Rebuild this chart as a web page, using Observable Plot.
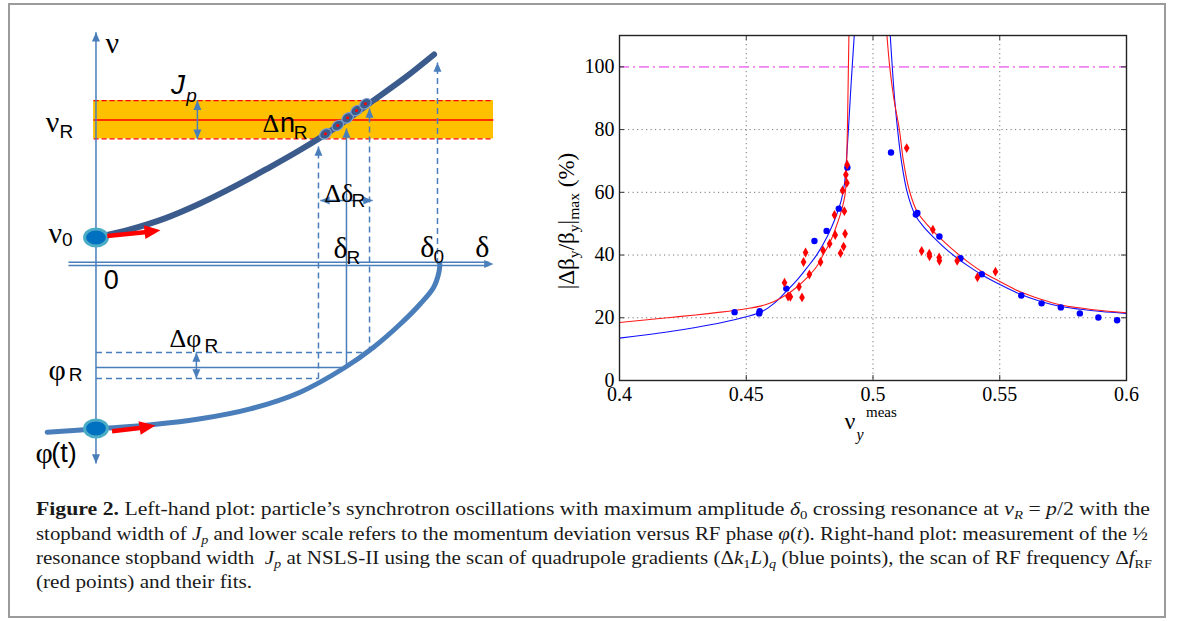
<!DOCTYPE html>
<html><head><meta charset="utf-8">
<script src="https://cdn.jsdelivr.net/npm/d3@7"></script>
<script src="https://cdn.jsdelivr.net/npm/@observablehq/plot@0.6"></script>
<style>
html,body{margin:0;padding:0;background:#fff;}
#root{position:relative;width:1182px;height:621px;overflow:hidden;background:#fff;}
#box{position:absolute;left:8px;top:3px;width:1154px;height:611px;border:2px solid #9b9b9b;}
#left{position:absolute;left:0;top:0;}
#right{position:absolute;left:540px;top:0;}
.cap{position:absolute;left:36px;font-family:"Liberation Serif",serif;font-size:19.5px;line-height:25px;white-space:nowrap;color:#1a1a1a;transform-origin:0 50%;}
.cap sub{font-size:68%;vertical-align:-0.3em;line-height:0;}
.lbl{position:absolute;font-family:"Liberation Serif",serif;color:#000;white-space:nowrap;line-height:1;}
.lbl sub{font-size:68%;vertical-align:-0.35em;line-height:0;}
</style></head><body>
<div id="root">
  <div id="box"></div>
  <div id="left"></div>
  <div id="right"></div>
</div>
<script>
// ---------------- Right-hand plot data ----------------
const xTickValues = [0.4, 0.45, 0.5, 0.55, 0.6];
const xTickLabels = ["0.4", "0.45", "0.5", "0.55", "0.6"];
const yTickValues = [0, 20, 40, 60, 80, 100];
const yTickLabels = ["0", "20", "40", "60", "80", "100"];
const gridX = [0.45, 0.5, 0.55];
const gridY = [20, 40, 60, 80];
const limitLevel = [100];

// measured points: quadrupole gradient scan (blue)
const blueX = [0.4454, 0.4551, 0.4553, 0.4658, 0.4769, 0.4817, 0.4865, 0.4899, 0.5071, 0.5169, 0.5175, 0.5262, 0.5345, 0.5429, 0.5585, 0.5665, 0.5741, 0.5816, 0.5889, 0.5963];
const blueY = [21.8, 21.4, 22.1, 29.3, 44.5, 47.7, 54.8, 67.9, 72.7, 52.9, 53.4, 45.9, 39.0, 33.9, 27.1, 24.6, 23.3, 21.4, 20.1, 19.2];
// measured points: RF frequency scan (red)
const redX = [0.4651, 0.4665, 0.4674, 0.4708, 0.4720, 0.4726, 0.4734, 0.4749, 0.4793, 0.4803, 0.4829, 0.4848, 0.4851, 0.4872, 0.4880, 0.4884, 0.4887, 0.4890, 0.4893, 0.4897, 0.4898, 0.5133, 0.5192, 0.5222, 0.5223, 0.5236, 0.5261, 0.5262, 0.5332, 0.5412, 0.5483];
const redY = [31.2, 26.8, 26.7, 29.9, 26.5, 37.8, 40.8, 33.8, 37.8, 41.5, 43.6, 52.8, 46.4, 40.6, 60.6, 42.7, 54.0, 46.8, 65.6, 63.0, 68.8, 74.1, 41.3, 40.4, 39.6, 48.1, 39.2, 38.2, 38.2, 32.9, 34.7];

// fitted curves
const blueFitLeftX = [0.400, 0.410, 0.420, 0.430, 0.440, 0.450, 0.456, 0.461, 0.466, 0.470, 0.474, 0.478, 0.482, 0.485, 0.4875, 0.4888, 0.4895, 0.4903, 0.4914, 0.4926];
const blueFitLeftY = [13.5, 14.5, 15.6, 16.9, 18.4, 20.3, 21.9, 24.6, 28.6, 32.0, 36.0, 40.3, 46.0, 51.5, 57.5, 63, 70, 80, 95, 110];
const blueFitRightX = [0.5068, 0.5076, 0.5085, 0.5097, 0.5112, 0.5135, 0.5168, 0.5200, 0.5241, 0.5307, 0.5372, 0.5438, 0.5500, 0.5583, 0.5662, 0.5741, 0.5820, 0.5900, 0.6000];
const blueFitRightY = [110, 100, 90, 80, 70, 60, 52.5, 49.0, 45.5, 40.6, 36.7, 33.3, 30.6, 27.4, 25.2, 23.6, 22.7, 22.0, 21.4];
const redFitLeftX = [0.400, 0.410, 0.420, 0.430, 0.440, 0.450, 0.456, 0.461, 0.466, 0.470, 0.474, 0.478, 0.4803, 0.483, 0.485, 0.4875, 0.4891, 0.4896, 0.4899, 0.4902, 0.4905];
const redFitLeftY = [18.5, 19.3, 20.1, 20.9, 21.8, 22.9, 23.8, 25.2, 27.4, 29.8, 32.8, 36.6, 40.0, 44.0, 48.0, 54.0, 60, 70, 80, 95, 110];
const redFitRightX = [0.5055, 0.5066, 0.5082, 0.5104, 0.5120, 0.5142, 0.5175, 0.5241, 0.5307, 0.5372, 0.5438, 0.5500, 0.5583, 0.5662, 0.5741, 0.5820, 0.5900, 0.6000];
const redFitRightY = [110, 100, 90, 80, 70, 61, 53.7, 47.3, 42.3, 38.0, 34.3, 31.6, 28.2, 25.9, 24.1, 23.1, 22.3, 21.6];

// ---------------- Left-hand schematic data (δ in units of δ0, ν in units of ν_R) ----------------
const upperCurveDelta = [0, 0.1, 0.2, 0.3, 0.4, 0.5, 0.6, 0.7, 0.8, 0.9, 0.99];
const upperCurveNu = [0.184, 0.24, 0.315, 0.415, 0.532, 0.66, 0.795, 0.945, 1.115, 1.285, 1.455];
const lowerCurveDelta = [-0.143, 0.0035, 0.169, 0.306, 0.452, 0.598, 0.730, 0.813, 0.892, 0.950, 0.989, 1.004, 1.007];
const lowerCurvePhi = [-1.168, -1.144, -1.115, -1.075, -1.006, -0.890, -0.717, -0.578, -0.415, -0.276, -0.161, -0.06, 0];
const nuR = 1.0, bandLow = 0.869, bandHigh = 1.135, bandStart = -0.007, bandEnd = 1.164;
const deltaRLow = 0.6515, deltaR = 0.7335, deltaRHigh = 0.801, delta0 = 1.0;
const phiRHigh = -0.615, phiR = -0.719, phiRLow = -0.795;
const crossingDelta = [0.672, 0.708, 0.737, 0.763, 0.789];
const crossingNu = [0.904, 0.962, 1.015, 1.066, 1.113];
const particleDelta = [0, 0];
const particleNu = [0.184, -1.142];
// [x1,y1,x2,y2]
const dashedGuides = [
  [deltaRLow, phiRLow, deltaRLow, 0.816],
  [deltaRHigh, phiRHigh, deltaRHigh, 1.080],
  [delta0, 0, delta0, 1.399],
  [0, phiRHigh, deltaRHigh, phiRHigh],
  [0, phiRLow, deltaRLow, phiRLow]
];
const solidGuides = [
  [0, -1.385, 0, 1.61],
  [deltaR, phiR, deltaR, 0.941],
  [0, phiR, deltaR, phiR],
  [0.297, bandLow, 0.297, bandHigh],
  [0.657, 0.441, 0.81, 0.441],
  [0.294, phiRHigh, 0.294, phiRLow],
  [-0.0805, 0.0125, 1.15, 0.0125],
  [-0.0805, -0.0104, 1.15, -0.0104]
];
// [x, y, direction in degrees clockwise from up]
const guideHeads = [
  [0, 1.61, 0], [0, -1.385, 180], [1.164, 0, 90],
  [deltaRLow, 0.816, 0], [deltaRHigh, 1.080, 0], [delta0, 1.399, 0], [deltaR, 0.941, 0],
  [0.297, bandHigh, 0], [0.297, bandLow, 180],
  [0.657, 0.441, 270], [0.81, 0.441, 90],
  [0.294, phiRHigh, 0], [0.294, phiRLow, 180]
];
const redShafts = [[0.033, 0.194, 0.15, 0.222], [0.047, -1.161, 0.14, -1.136]];
const redHeads = [[0.189, 0.234, 83.5], [0.174, -1.122, 81]];
// labels: [text, x, y]
const greekLabels = [["ν", 0.048, 1.531], ["ν", -0.127, 0.985], ["ν", -0.119, 0.210], ["δ", 1.131, 0.117], ["δ", 0.716, 0.106], ["δ", 0.970, 0.117], ["φ", -0.114, -0.740], ["φ", -0.152, -1.318]];
const deltaSignLabels = [["Δ", 0.512, 0.974], ["Δδ", 0.711, 0.488], ["Δφ", 0.262, -0.519]];
const sansLabels = [["0", 0.045, -0.115], ["n", 0.561, 0.974], ["(t)", -0.094, -1.318]];
const subLabels = [["R", -0.087, 0.914], ["0", -0.084, 0.170], ["R", 0.599, 0.912], ["R", 0.768, 0.441], ["R", 0.754, 0.040], ["0", 1.004, 0.047], ["R", 0.338, -0.566], ["R", -0.060, -0.767]];
const italicLabels = [["J", 0.240, 1.240]];
const italicSubLabels = [["p", 0.280, 1.170]];

// ---------------- build right plot ----------------
const xLab = new Map(xTickValues.map((v, i) => [v, xTickLabels[i]]));
const yLab = new Map(yTickValues.map((v, i) => [v, yTickLabels[i]]));
const pts = (xs, ys) => xs.map((x, i) => ({x, y: ys[i]}));
const fitBlue = pts(blueFitLeftX, blueFitLeftY).map(d => ({...d, b: "L"})).concat(pts(blueFitRightX, blueFitRightY).map(d => ({...d, b: "R"})));
const fitRed = pts(redFitLeftX, redFitLeftY).map(d => ({...d, b: "L"})).concat(pts(redFitRightX, redFitRightY).map(d => ({...d, b: "R"})));
const innerH = 345, innerW = 507;

const right = Plot.plot({
  width: 620, height: 470,
  marginLeft: 79, marginRight: 34, marginTop: 35, marginBottom: 90,
  style: {fontFamily: "'Liberation Serif', serif", fontSize: "20px", background: "transparent", color: "#000", overflow: "visible"},
  x: {domain: [0.4, 0.6]},
  y: {domain: [0, 110]},
  marks: [
    Plot.ruleX(gridX, {stroke: "#777", strokeDasharray: "1.2,3.3", strokeWidth: 1}),
    Plot.ruleY(gridY, {stroke: "#777", strokeDasharray: "1.2,3.3", strokeWidth: 1}),
    Plot.ruleY(limitLevel, {stroke: "#ee82ee", strokeWidth: 1.7, strokeDasharray: "10,4,2,4"}),
    Plot.line(fitBlue, {x: "x", y: "y", z: "b", stroke: "#1010ff", strokeWidth: 1.1, curve: "catmull-rom", clip: true}),
    Plot.line(fitRed, {x: "x", y: "y", z: "b", stroke: "#ff1a1a", strokeWidth: 1.1, curve: "catmull-rom", clip: true}),
    Plot.dot(pts(blueX, blueY), {x: "x", y: "y", r: 3.2, fill: "#0000ff"}),
    Plot.dot(pts(redX, redY), {x: "x", y: "y", r: 3.0, symbol: "diamond", fill: "#ff0000"}),
    Plot.tickX(xTickValues, {x: d => d, insetTop: innerH - 5, stroke: "#333"}),
    Plot.tickX(xTickValues, {x: d => d, insetBottom: innerH - 5, stroke: "#333"}),
    Plot.tickY(yTickValues, {y: d => d, insetRight: innerW - 5, stroke: "#333"}),
    Plot.tickY(yTickValues, {y: d => d, insetLeft: innerW - 5, stroke: "#333"}),
    Plot.frame({stroke: "#222", strokeWidth: 1.4}),
    Plot.axisX(xTickValues, {tickSize: 0, tickPadding: 6, tickFormat: d => xLab.get(d), fontSize: 20, label: null}),
    Plot.axisY(yTickValues, {tickSize: 0, tickPadding: 5, tickFormat: d => yLab.get(d), fontSize: 20, label: null})
  ]
});
document.getElementById("right").appendChild(right);

// ---------------- build left schematic ----------------
const headSym = {draw(ctx, size) { const s = Math.sqrt(size); ctx.moveTo(0, 0); ctx.lineTo(0.45 * s, 1.05 * s); ctx.lineTo(-0.45 * s, 1.05 * s); ctx.closePath(); }};
const ellSym = {draw(ctx, size) { const r = Math.sqrt(size / Math.PI), a = r * 1.2, b = r * 0.9, k = 0.5523;
  ctx.moveTo(a, 0); ctx.bezierCurveTo(a, b * k, a * k, b, 0, b); ctx.bezierCurveTo(-a * k, b, -a, b * k, -a, 0);
  ctx.bezierCurveTo(-a, -b * k, -a * k, -b, 0, -b); ctx.bezierCurveTo(a * k, -b, a, -b * k, a, 0); ctx.closePath(); }};
const seg = a => a.map(([x1, y1, x2, y2]) => ({x1, y1, x2, y2}));
const hd = a => a.map(([x, y, r]) => ({x, y, r}));
const lb = a => a.map(([t, x, y]) => ({t, x, y}));
const blueGuide = "#4a7ebb";
const textOpts = (family, size, style) => ({x: "x", y: "y", text: "t", fontFamily: family, fontSize: size, fontStyle: style || "normal", textAnchor: "middle", lineAnchor: "middle", fill: "#000"});

const left = Plot.plot({
  width: 520, height: 470, margin: 0,
  style: {background: "transparent", overflow: "visible"},
  x: {domain: [-0.2796, 1.2431], axis: null},
  y: {domain: [-1.434, 1.830], axis: null},
  marks: [
    Plot.rect([{x1: bandStart, x2: bandEnd, y1: bandLow, y2: bandHigh}], {x1: "x1", x2: "x2", y1: "y1", y2: "y2", fill: "#ffc000"}),
    Plot.link(seg([[bandStart, bandLow, bandEnd, bandLow], [bandStart, bandHigh, bandEnd, bandHigh]]), {x1: "x1", y1: "y1", x2: "x2", y2: "y2", stroke: "#ff0000", strokeWidth: 1.4, strokeDasharray: "5,3"}),
    Plot.link(seg([[bandStart, nuR, bandEnd, nuR]]), {x1: "x1", y1: "y1", x2: "x2", y2: "y2", stroke: "#ff0000", strokeWidth: 1.4}),
    Plot.link(seg(dashedGuides), {x1: "x1", y1: "y1", x2: "x2", y2: "y2", stroke: blueGuide, strokeWidth: 1.5, strokeDasharray: "6,4"}),
    Plot.link(seg(solidGuides), {x1: "x1", y1: "y1", x2: "x2", y2: "y2", stroke: blueGuide, strokeWidth: 1.5}),
    Plot.line(pts(upperCurveDelta, upperCurveNu), {x: "x", y: "y", stroke: "#3b5b8c", strokeWidth: 6, curve: "catmull-rom"}),
    Plot.line(pts(lowerCurveDelta, lowerCurvePhi), {x: "x", y: "y", stroke: "#4a7ebb", strokeWidth: 5, curve: "catmull-rom"}),
    Plot.dot(pts(crossingDelta, crossingNu), {x: "x", y: "y", r: 5.2, symbol: ellSym, fill: "#3b5b8c", stroke: "#7f9fd0", strokeWidth: 1.2, rotate: -35}),
    Plot.dot(pts(crossingDelta, crossingNu), {x: "x", y: "y", r: 1.5, fill: "#ff0000"}),
    Plot.dot(pts(particleDelta, particleNu), {x: "x", y: "y", r: 9.5, symbol: ellSym, fill: "#0070c0", stroke: "#4bacc6", strokeWidth: 3}),
    Plot.link(seg(redShafts), {x1: "x1", y1: "y1", x2: "x2", y2: "y2", stroke: "#ff0000", strokeWidth: 4.5}),
    Plot.dot(hd(redHeads), {x: "x", y: "y", rotate: "r", r: 8.6, symbol: headSym, fill: "#ff0000"}),
    Plot.dot(hd(guideHeads), {x: "x", y: "y", rotate: "r", r: 5, symbol: headSym, fill: blueGuide}),
    Plot.text(lb(greekLabels), textOpts("'Liberation Serif', serif", 30)),
    Plot.text(lb(deltaSignLabels), textOpts("'Liberation Serif', serif", 26)),
    Plot.text(lb(sansLabels), textOpts("'Liberation Sans', Arial, sans-serif", 27)),
    Plot.text(lb(subLabels), textOpts("'Liberation Sans', Arial, sans-serif", 19)),
    Plot.text(lb(italicLabels), textOpts("'Liberation Sans', Arial, sans-serif", 28, "italic")),
    Plot.text(lb(italicSubLabels), textOpts("'Liberation Sans', Arial, sans-serif", 19, "italic"))
  ]
});
document.getElementById("left").appendChild(left);

// ---------------- axis titles of right plot (HTML text) ----------------
const root = document.getElementById("root");
function addLabel(html, css) { const d = document.createElement("div"); d.className = "lbl"; d.innerHTML = html; Object.assign(d.style, css); root.appendChild(d); return d; }
addLabel("|Δβ<sub>y</sub>/β<sub>y</sub>|<sub>max</sub> (%)", {left: "566px", top: "221px", fontSize: "23px", transform: "translate(-50%,-50%) rotate(-90deg)"});
addLabel("ν", {left: "850px", top: "421px", fontSize: "24px", transform: "translate(-50%,-50%)"});
addLabel("meas", {left: "866px", top: "412px", fontSize: "15px", transform: "translate(0,-50%)"});
addLabel("<i>y</i>", {left: "860px", top: "435px", fontSize: "16px", transform: "translate(-50%,-50%)"});

// ---------------- caption ----------------
const capLines = [
  "<b>Figure 2.</b> Left-hand plot: particle’s synchrotron oscillations with maximum amplitude <i>δ</i><sub>0</sub> crossing resonance at <i>ν<sub>R</sub></i> = <i>p</i>/2 with the",
  "stopband width of <i>J<sub>p</sub></i> and lower scale refers to the momentum deviation versus RF phase <i>φ</i>(<i>t</i>). Right-hand plot: measurement of the ½",
  "resonance stopband width&nbsp; <i>J<sub>p</sub></i> at NSLS-II using the scan of quadrupole gradients (Δ<i>k</i><sub>1</sub><i>L</i>)<sub><i>q</i></sub> (blue points), the scan of RF frequency Δ<i>f</i><sub>RF</sub>",
  "(red points) and their fits."
];
const capCenters = [508, 533, 557, 581];
const capEnds = [1150, 1148, 1152, null];
const capDivs = capLines.map((h, i) => {
  const d = document.createElement("div");
  d.className = "cap"; d.innerHTML = h; d.style.top = (capCenters[i] - 12.5) + "px";
  root.appendChild(d);
  return d;
});
const scales = [];
capDivs.forEach((d, i) => {
  if (capEnds[i]) {
    const w = d.getBoundingClientRect().width;
    const s = (capEnds[i] - 36) / w;
    scales.push(s);
    d.style.transform = "scaleX(" + s + ")";
  }
});
const meanScale = scales.reduce((a, b) => a + b, 0) / scales.length;
capDivs[3].style.transform = "scaleX(" + meanScale + ")";
</script>
</body></html>
